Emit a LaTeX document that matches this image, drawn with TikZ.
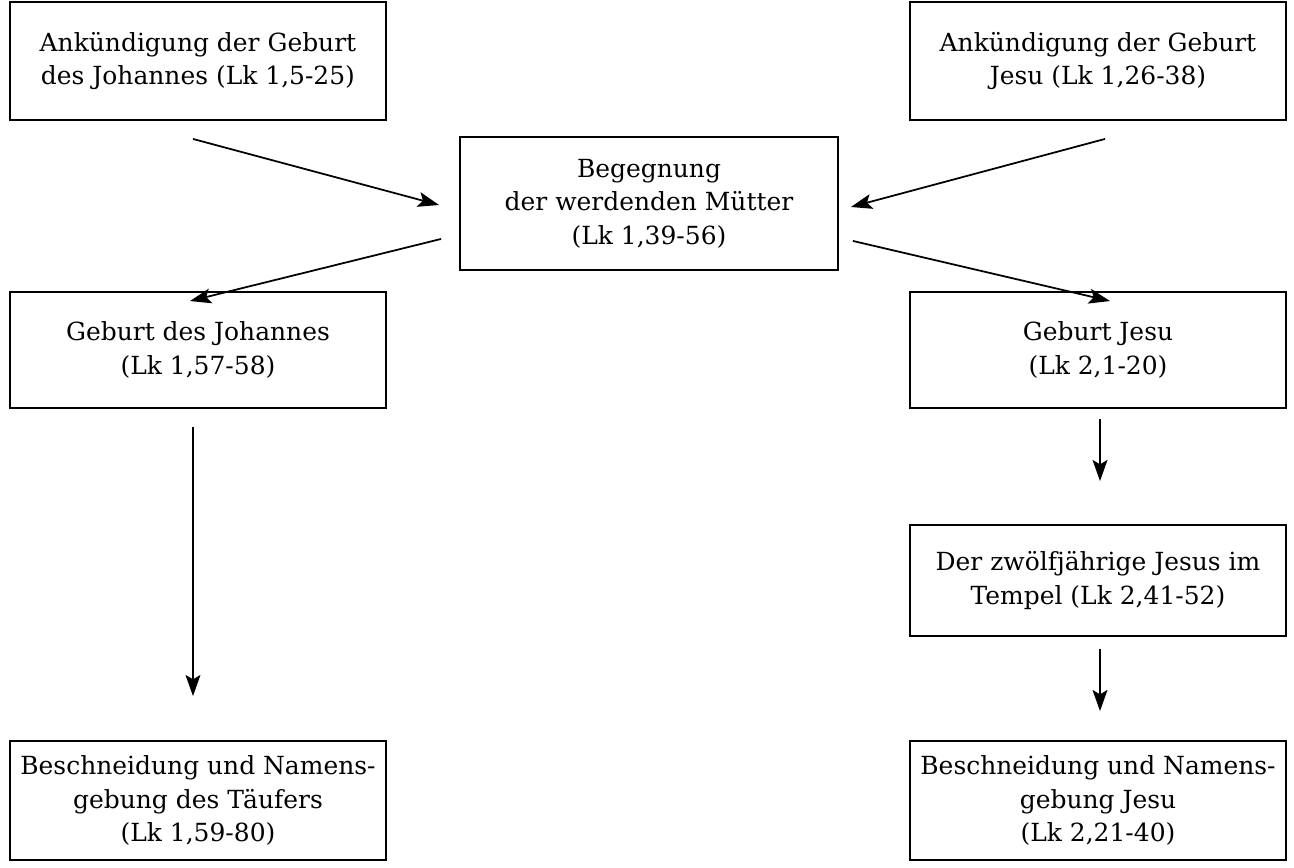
\documentclass[tikz,border=0pt]{standalone}
\usepackage{fontspec}
\setmainfont{DejaVu Serif}
\usetikzlibrary{calc,arrows.meta}
\begin{document}
\begin{tikzpicture}[x=0.02cm,y=-0.02cm,
    feld/.style={draw,line width=1.1pt,inner sep=0pt,minimum width=7.52cm,align=center,
        font=\fontsize{14.2}{19}\selectfont},
    pfeil/.style={line width=1pt,-{Stealth[length=12pt,width=8.5pt,inset=2.5pt]}}]
    \useasboundingbox (0,0) rectangle (1294,868);
    \node[feld,minimum height=2.36cm] (ak1) at (198,61) {Ankündigung der Geburt\\des Johannes (Lk 1,5-25)};
    \node[feld,minimum height=2.36cm] (ak2) at (1098,61) {Ankündigung der Geburt\\Jesu (Lk 1,26-38)};
    \node[feld,minimum width=7.56cm,minimum height=2.66cm] (beg) at (649,203.5) {Begegnung\\der werdenden Mütter\\(Lk 1,39-56)};
    \node[feld,minimum height=2.32cm] (gj) at (198,350) {Geburt des Johannes\\(Lk 1,57-58)};
    \node[feld,minimum height=2.32cm] (gjes) at (1098,350) {Geburt Jesu\\(Lk 2,1-20)};
    \node[feld,minimum height=2.22cm] (zw) at (1098,580.5) {Der zwölfjährige Jesus im\\Tempel (Lk 2,41-52)};
    \node[feld,minimum height=2.38cm] (bt) at (198,800.5) {Beschneidung und Namens-\\gebung des Täufers\\(Lk 1,59-80)};
    \node[feld,minimum height=2.38cm] (bj) at (1098,800.5) {Beschneidung und Namens-\\gebung Jesu\\(Lk 2,21-40)};

    % zur Begegnung hin
    \draw[pfeil] ($(ak1.south)+(-5,18)$) -- ($(beg.west)+(-20,1.5)$);
    \draw[pfeil] ($(ak2.south)+(7,18)$) -- ($(beg.east)+(12,3.5)$);
    % von der Begegnung weg
    \draw[pfeil] ($(beg.south west)+(-18,-32)$) -- ($(gj.north)+(-8,10)$);
    \draw[pfeil] ($(beg.south east)+(14,-30)$) -- ($(gjes.north)+(12,10)$);
    % senkrecht
    \draw[pfeil,line width=0.6pt] ($(gj.south)+(-5,18)$) -- ($(bt.north)+(-5,-44)$);
    \draw[pfeil] ($(gjes.south)+(2,10)$) -- ($(zw.north)+(2,-43)$);
    \draw[pfeil] ($(zw.south)+(2,12)$) -- ($(bj.north)+(2,-29)$);
\end{tikzpicture}
\end{document}
